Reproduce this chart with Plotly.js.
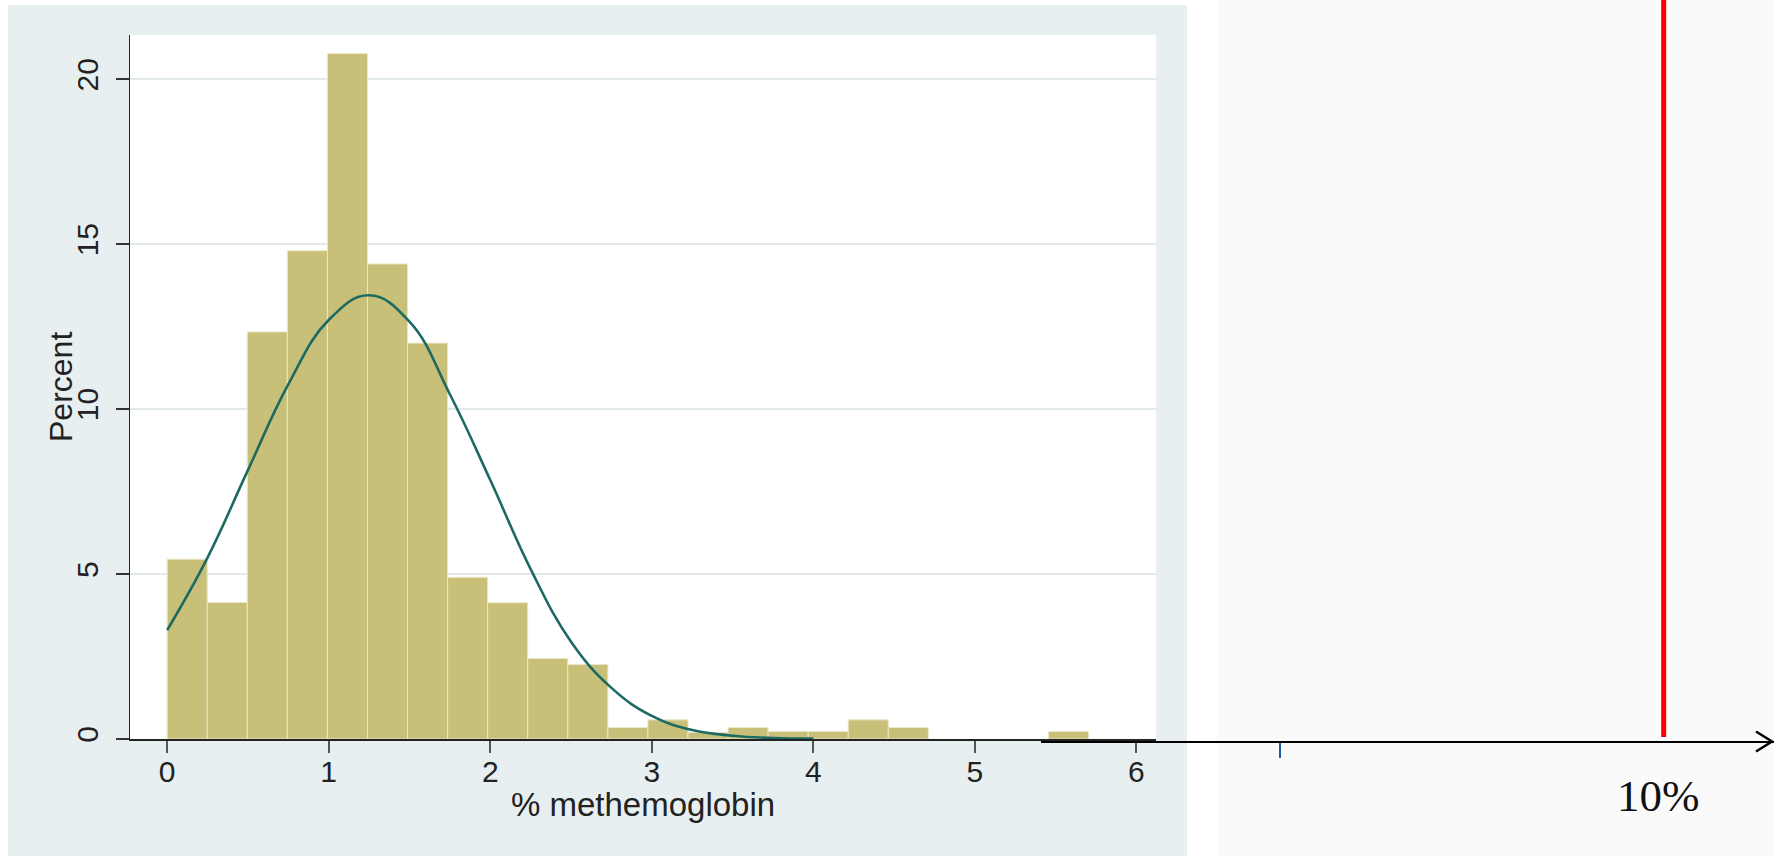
<!DOCTYPE html>
<html>
<head>
<meta charset="utf-8">
<script src="https://cdn.plot.ly/plotly-3.0.1.min.js"></script>
<style>
html,body{margin:0;padding:0;background:#ffffff;}
#chart{width:1774px;height:856px;}
</style>
</head>
<body>
<div id="chart"></div>
<script>
// ---- data ----
const binLeft = [0, 0.248, 0.496, 0.744, 0.992, 1.24, 1.488, 1.736, 1.984, 2.232, 2.48, 2.728, 2.976, 3.224, 3.472, 3.72, 3.968, 4.216, 4.464, 5.456];
const binPercent = [5.45, 4.14, 12.34, 14.8, 20.78, 14.4, 12.0, 4.9, 4.13, 2.44, 2.26, 0.35, 0.58, 0.2, 0.35, 0.23, 0.23, 0.58, 0.35, 0.23];
const binWidth = 0.248;

const curveX = [0, 0.25, 0.5, 0.75, 1.0, 1.25, 1.5, 1.75, 2.0, 2.25, 2.5, 2.75, 3.0, 3.25, 3.5, 3.75, 4.0];
const curveY = [3.3, 5.5, 8.15, 10.75, 12.7, 13.45, 12.65, 10.45, 7.85, 5.15, 2.95, 1.55, 0.7, 0.27, 0.1, 0.03, 0.01];

const xTickVals = [0, 1, 2, 3, 4, 5, 6];
const yTickVals = [0, 5, 10, 15, 20];
const xTitle = '% methemoglobin';
const yTitle = 'Percent';

// right-hand number line
const thresholdValue = 10;
const thresholdLabel = '10%';
const markerTickValue = 1;

// ---- layout geometry (pixels of the 1774x856 page) ----
const W = 1774, H = 856;
const px = v => v / W;
const py = v => 1 - v / H;

const numberLinePos = py(741.5);
const x2Range = [-4.607, 12.588];

const traces = [
  {
    type: 'bar',
    x: binLeft,
    y: binPercent,
    width: binWidth,
    offset: 0,
    marker: {color: '#c8bf78', line: {color: '#ebe7c6', width: 1}},
    hoverinfo: 'x+y',
    showlegend: false
  },
  {
    type: 'scatter',
    mode: 'lines',
    x: curveX,
    y: curveY,
    line: {color: '#1d6a62', width: 2.6, shape: 'spline', smoothing: 1.2},
    hoverinfo: 'skip',
    showlegend: false
  },
  {
    type: 'scatter',
    mode: 'markers',
    x: [thresholdValue],
    y: [0],
    xaxis: 'x2',
    yaxis: 'y2',
    marker: {opacity: 0, size: 1},
    hoverinfo: 'skip',
    showlegend: false
  }
];

const tickFont = {family: 'Liberation Sans, Arial, sans-serif', size: 30, color: '#222222'};

const layout = {
  width: W,
  height: H,
  margin: {l: 0, r: 0, t: 0, b: 0, pad: 0},
  paper_bgcolor: '#ffffff',
  plot_bgcolor: 'rgba(0,0,0,0)',
  showlegend: false,
  bargap: 0,
  xaxis: {
    domain: [px(130), px(1156)],
    range: [-0.230, 6.121],
    anchor: 'y',
    tickvals: xTickVals,
    ticks: 'outside',
    ticklen: 12,
    tickwidth: 2,
    tickcolor: '#555555',
    ticklabelstandoff: -7,
    showline: true,
    linecolor: '#222222',
    linewidth: 1.5,
    showgrid: false,
    zeroline: false,
    tickfont: tickFont,
    automargin: false
  },
  yaxis: {
    domain: [py(739), py(35)],
    range: [0, 21.34],
    anchor: 'x',
    tickvals: yTickVals,
    tickangle: -90,
    ticks: 'outside',
    ticklen: 13,
    tickwidth: 2,
    tickcolor: '#333333',
    ticklabelstandoff: 6,
    showline: true,
    linecolor: '#222222',
    linewidth: 1.5,
    showgrid: true,
    gridcolor: '#e2e9ed',
    gridwidth: 1.5,
    zeroline: false,
    tickfont: tickFont,
    automargin: false
  },
  xaxis2: {
    domain: [px(1041), 1],
    range: x2Range,
    anchor: 'free',
    position: numberLinePos,
    tickvals: [markerTickValue],
    ticks: 'outside',
    ticklen: 15,
    tickwidth: 2.2,
    tickcolor: '#1f5aa6',
    showticklabels: false,
    showline: true,
    linecolor: '#000000',
    linewidth: 2.5,
    showgrid: false,
    zeroline: false,
    automargin: false
  },
  yaxis2: {
    domain: [0, 1],
    range: [0, 1],
    anchor: 'x2',
    visible: false,
    showgrid: false,
    zeroline: false
  },
  shapes: [
    // Stata graph region
    {type: 'rect', xref: 'paper', yref: 'paper', x0: px(8), x1: px(1187), y0: 0, y1: py(5),
     fillcolor: '#e8eff1', line: {width: 0}, layer: 'below'},
    // right panel background
    {type: 'rect', xref: 'paper', yref: 'paper', x0: px(1217), x1: 1, y0: 0, y1: 1,
     fillcolor: '#fafafa', line: {width: 0}, layer: 'below'},
    // white plot region
    {type: 'rect', xref: 'x domain', yref: 'y domain', x0: 0, x1: 1, y0: 0, y1: 1,
     fillcolor: '#ffffff', line: {width: 0}, layer: 'below'},
    // red threshold line
    {type: 'line', xref: 'x2', yref: 'paper', x0: thresholdValue, x1: thresholdValue,
     y0: py(737), y1: 1, line: {color: '#ff0000', width: 5}, layer: 'above'},
    // arrow head at end of number line
    {type: 'path', xref: 'x2', yref: 'paper', xsizemode: 'pixel', ysizemode: 'pixel',
     xanchor: x2Range[1], yanchor: numberLinePos,
     path: 'M -18 10 L -2 0 L -18 -10', line: {color: '#000000', width: 2.5}, layer: 'above'}
  ],
  annotations: [
    {text: xTitle, xref: 'x domain', yref: 'paper', x: 0.5, y: py(804), xanchor: 'center', yanchor: 'middle',
     showarrow: false, font: {family: 'Liberation Sans, Arial, sans-serif', size: 33, color: '#222222'}},
    {text: yTitle, xref: 'paper', yref: 'paper', x: px(61), y: py(387), xanchor: 'center', yanchor: 'middle',
     textangle: -90, showarrow: false, font: {family: 'Liberation Sans, Arial, sans-serif', size: 32, color: '#222222'}},
    {text: thresholdLabel, xref: 'x2', yref: 'paper', x: thresholdValue, y: py(796), xanchor: 'center', yanchor: 'middle',
     xshift: -5, showarrow: false, font: {family: 'Liberation Serif, Times New Roman, serif', size: 45, color: '#111111'}}
  ]
};

Plotly.newPlot('chart', traces, layout, {staticPlot: true, displayModeBar: false});
</script>
</body>
</html>
